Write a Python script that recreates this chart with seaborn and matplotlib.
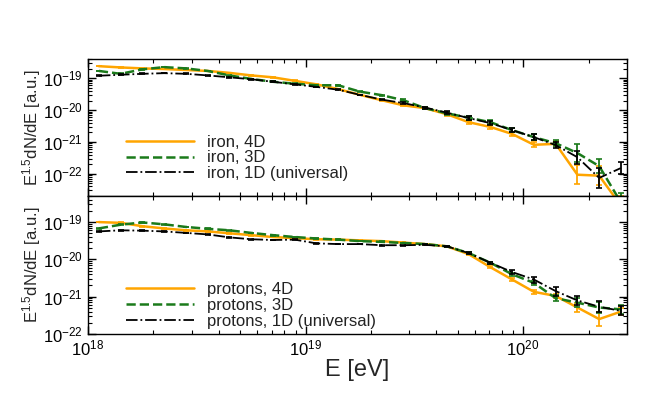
import numpy as np
import pandas as pd
import matplotlib
matplotlib.use('Agg')
import matplotlib.pyplot as plt
import matplotlib.ticker as mticker
import seaborn as sns

# energy bins: log10(E/eV)
log_e = [18.05, 18.15, 18.25, 18.35, 18.45, 18.55, 18.65, 18.75, 18.85, 18.95,
         19.05, 19.15, 19.25, 19.35, 19.45, 19.55, 19.65, 19.75, 19.85, 19.95,
         20.05, 20.15, 20.25, 20.35, 20.45]

# log10 of E^1.5 dN/dE, iron
iron_4d = [-18.62, -18.66, -18.69, -18.71, -18.74, -18.77, -18.83, -18.91, -18.97, -19.08,
           -19.19, -19.34, -19.52, -19.69, -19.85, -19.94, -20.13, -20.38, -20.53, -20.75,
           -21.09, -21.06, -22.03, -22.06, -23.0]
iron_3d = [-18.77, -18.86, -18.72, -18.65, -18.69, -18.77, -18.91, -19.02, -19.11, -19.17,
           -19.22, -19.22, -19.42, -19.53, -19.69, -19.94, -20.10, -20.24, -20.38, -20.63,
           -20.85, -21.04, -21.35, -21.76, -22.9]
iron_1d = [-18.92, -18.89, -18.86, -18.84, -18.86, -18.91, -18.97, -19.03, -19.11, -19.19,
           -19.27, -19.36, -19.52, -19.67, -19.78, -19.92, -20.08, -20.25, -20.41, -20.63,
           -20.85, -21.10, -21.48, -22.13, -21.82]

# protons
prot_4d = [-19.00, -19.02, -19.11, -19.17, -19.22, -19.25, -19.30, -19.35, -19.40, -19.43,
           -19.46, -19.47, -19.49, -19.51, -19.55, -19.59, -19.65, -19.86, -20.21, -20.54,
           -20.87, -20.98, -21.29, -21.60, -21.40]
prot_3d = [-19.17, -19.07, -19.01, -19.06, -19.13, -19.18, -19.22, -19.29, -19.35, -19.40,
           -19.44, -19.47, -19.51, -19.53, -19.56, -19.59, -19.65, -19.83, -20.09, -20.40,
           -20.63, -21.04, -21.16, -21.29, -21.34]
prot_1d = [-19.25, -19.22, -19.23, -19.25, -19.29, -19.33, -19.41, -19.46, -19.48, -19.47,
           -19.57, -19.59, -19.59, -19.62, -19.62, -19.61, -19.65, -19.83, -20.09, -20.34,
           -20.54, -20.85, -21.10, -21.27, -21.38]

# error bar half-widths in dex
err_iron_4d = [0.01] * 13 + [0.02, 0.03, 0.03, 0.04, 0.05, 0.05, 0.06, 0.08, 0.08, 0.30, 0.30, 0.30]
err_iron_3d = [0.01] * 13 + [0.02, 0.03, 0.03, 0.05, 0.06, 0.06, 0.07, 0.09, 0.10, 0.28, 0.22, 0.30]
err_iron_1d = [0.01] * 13 + [0.02, 0.03, 0.03, 0.05, 0.06, 0.06, 0.07, 0.09, 0.10, 0.20, 0.32, 0.18]
err_prot_4d = [0.01] * 16 + [0.02, 0.02, 0.03, 0.04, 0.05, 0.06, 0.13, 0.18, 0.10]
err_prot_3d = [0.01] * 16 + [0.02, 0.02, 0.03, 0.04, 0.06, 0.08, 0.12, 0.15, 0.12]
err_prot_1d = [0.01] * 16 + [0.02, 0.02, 0.03, 0.05, 0.08, 0.12, 0.13, 0.15, 0.12]

sns.set_theme(style='ticks')
plt.rcParams['font.family'] = ['Liberation Sans', 'DejaVu Sans']
plt.rcParams['mathtext.fontset'] = 'custom'
plt.rcParams['mathtext.rm'] = 'Liberation Sans'
plt.rcParams['mathtext.it'] = 'Liberation Sans:italic'
plt.rcParams['axes.linewidth'] = 1.0
plt.rcParams['axes.edgecolor'] = 'black'

energy = 10 ** np.array(log_e)

fig = plt.figure(figsize=(6.64, 3.94), dpi=100)
ax1 = fig.add_axes([0.1325, 0.5025, 0.8115, 0.3475])
ax2 = fig.add_axes([0.1325, 0.1523, 0.8115, 0.3502])

styles = [('orange', '-', 1.8), ('#1b7a1b', '--', 1.8), ('black', '-.', 1.3)]


def draw(ax, series, errs, labels, leg_y):
    for vals, err, lab, (col, ls, lw) in zip(series, errs, labels, styles):
        v = np.array(vals)
        e = np.array(err)
        df = pd.DataFrame({'E': energy, 'flux': 10 ** v})
        sns.lineplot(data=df, x='E', y='flux', ax=ax, color=col, linestyle=ls,
                     linewidth=lw, label=lab)
        lo = 10 ** v - 10 ** (v - e)
        hi = 10 ** (v + e) - 10 ** v
        ax.errorbar(energy, 10 ** v, yerr=[lo, hi], fmt='none', ecolor=col,
                    elinewidth=1.3, capsize=2, capthick=1.2)
    ax.set_xscale('log')
    ax.set_yscale('log')
    ax.set_xlim(1e18, 3e20)
    ax.tick_params(which='both', direction='in', top=True, right=True,
                   labelsize=12, colors='black')
    ax.tick_params(which='major', length=6, width=1)
    ax.tick_params(which='minor', length=3, width=0.8)
    ax.yaxis.set_major_locator(mticker.LogLocator(base=10, numticks=20))
    ax.yaxis.set_minor_locator(mticker.LogLocator(base=10, subs=np.arange(2, 10), numticks=20))
    ax.yaxis.set_minor_formatter(mticker.NullFormatter())
    ax.set_ylabel('E$^{1.5}$dN/dE [a.u.]', fontsize=12, labelpad=0)
    leg = ax.legend(loc='lower left', bbox_to_anchor=(0.045, leg_y), frameon=False,
                    fontsize=12, handlelength=4.1, handletextpad=0.8,
                    labelspacing=0.05, borderpad=0.3)
    for t in leg.get_texts():
        t.set_color('#222222')


draw(ax1, [iron_4d, iron_3d, iron_1d], [err_iron_4d, err_iron_3d, err_iron_1d],
     ['iron, 4D', 'iron, 3D', 'iron, 1D (universal)'], 0.01)
ax1.set_ylim(2e-23, 4e-19)
ax1.set_xlabel('')
ax1.tick_params(labelbottom=False)

draw(ax2, [prot_4d, prot_3d, prot_1d], [err_prot_4d, err_prot_3d, err_prot_1d],
     ['protons, 4D', 'protons, 3D', 'protons, 1D (universal)'], -0.058)
ax2.set_ylim(1e-22, 5e-19)
ax2.set_xlabel('E [eV]', fontsize=17, labelpad=0)

fig.savefig('out.png', dpi=100)
